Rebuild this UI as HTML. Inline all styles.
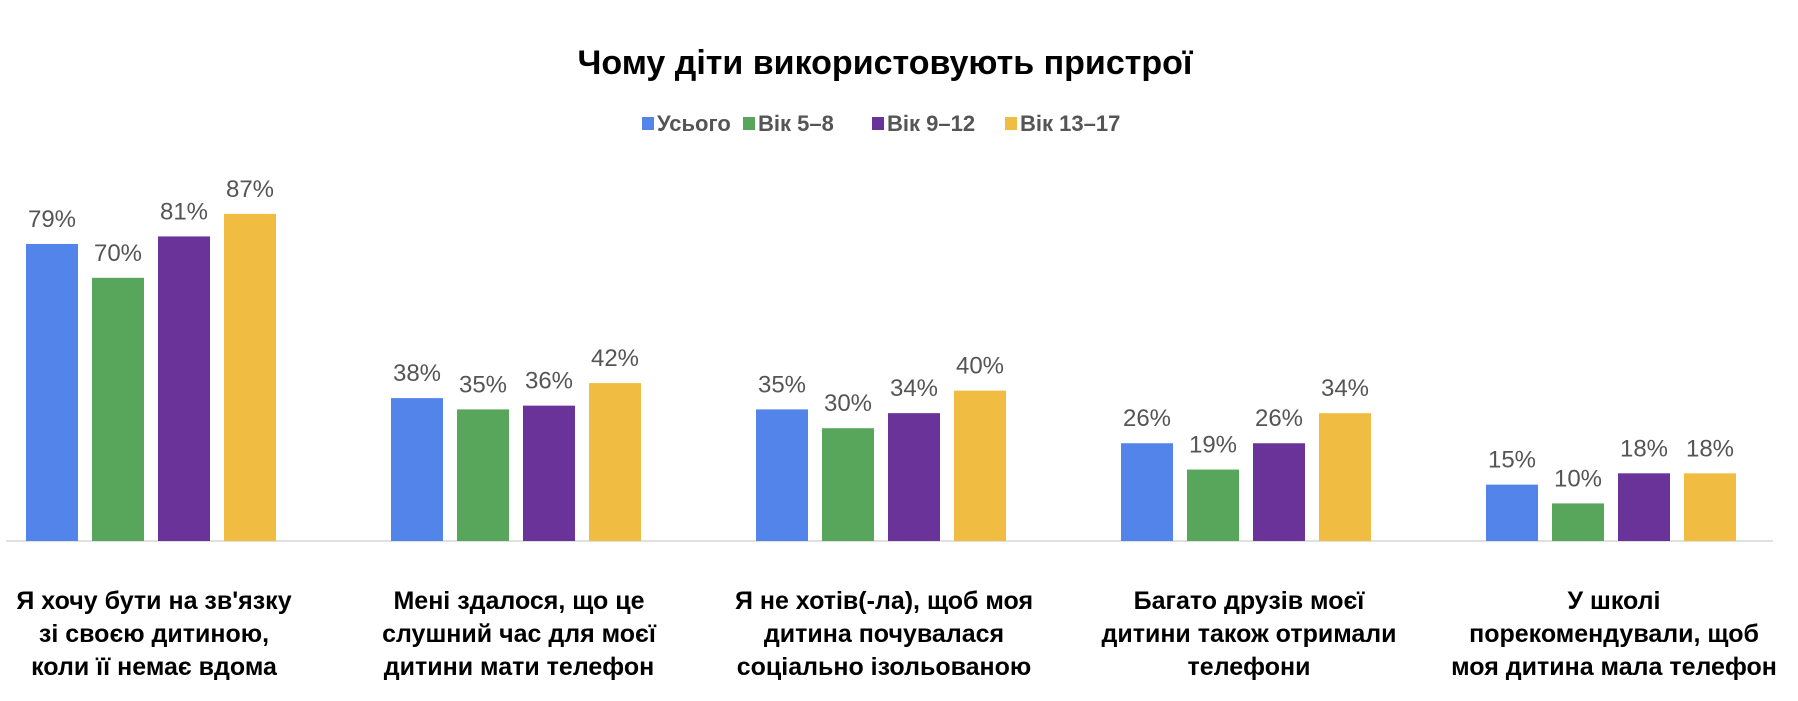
<!DOCTYPE html>
<html><head><meta charset="utf-8"><style>
body{margin:0;background:#fff;width:1798px;height:696px;overflow:hidden;font-family:"Liberation Sans",sans-serif}
</style></head><body>
<svg width="1798" height="696" id="c" font-family="Liberation Sans, sans-serif">
<text x="885" y="74" text-anchor="middle" font-size="34" font-weight="bold" fill="#000">Чому діти використовують пристрої</text>
<g id="legend"></g>
<line x1="6" y1="541" x2="1773" y2="541" stroke="#e0e0e0" stroke-width="2"/>
<g id="bars"></g>
<g id="cats"></g>
</svg>
<script>
const categories=[["Я хочу бути на зв'язку","зі своєю дитиною,","коли її немає вдома"],["Мені здалося, що це","слушний час для моєї","дитини мати телефон"],["Я не хотів(-ла), щоб моя","дитина почувалася","соціально ізольованою"],["Багато друзів моєї","дитини також отримали","телефони"],["У школі","порекомендували, щоб","моя дитина мала телефон"]];
const seriesNames=["Усього","Вік 5–8","Вік 9–12","Вік 13–17"];
const total=[79,38,35,26,15];
const age5_8=[70,35,30,19,10];
const age9_12=[81,36,34,26,18];
const age13_17=[87,42,40,34,18];
const colors=["#5384ea","#58a65c","#69339a","#f0bd42"];
const series=[total,age5_8,age9_12,age13_17];
const NS="http://www.w3.org/2000/svg";
const base=541, perPct=3.76;
const y=v=>base-v*perPct;
const groupX=i=>154+i*365;
const barX=(i,s)=>groupX(i)-128+s*66;
function mk(t,a,p){const e=document.createElementNS(NS,t);for(const k in a)e.setAttribute(k,a[k]);p.appendChild(e);return e;}
const bars=document.getElementById('bars'),cats=document.getElementById('cats'),leg=document.getElementById('legend');
series.forEach((arr,s)=>{arr.forEach((v,i)=>{
 const r=mk('rect',{x:barX(i,s),y:y(v),width:52,height:v*perPct,fill:colors[s]},bars);
 
 
 const t=mk('text',{x:barX(i,s)+26,y:y(v)-17,'text-anchor':'middle','font-size':24,fill:'#555'},bars);
 t.textContent=v+'%';
 
 
});});
categories.forEach((lines,i)=>{lines.forEach((l,j)=>{
 const t=mk('text',{x:groupX(i),y:609+j*33,'text-anchor':'middle','font-size':25,'font-weight':'bold',fill:'#000'},cats);
 t.textContent=l;
 
 
});});
const lx=[642,743,872,1005];
seriesNames.forEach((n,s)=>{
 const r=mk('rect',{x:lx[s],y:117,width:12,height:13,fill:colors[s]},leg);
 
 
 const t=mk('text',{x:lx[s]+15,y:131,'font-size':22,'font-weight':'bold',fill:'#555'},leg);
 t.textContent=n;
 
 
});
</script>
</body></html>
